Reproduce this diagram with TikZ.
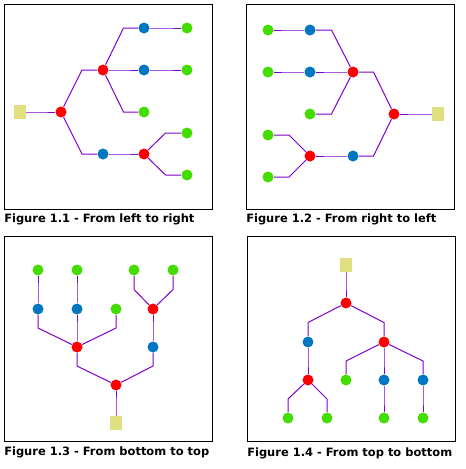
\documentclass[tikz,border=0pt]{standalone}
\usepackage{fontspec}
\setmainfont{DejaVu Sans}
\usepackage{xcolor}
\usepackage{tikz}
\usetikzlibrary{calc}
\definecolor{linepurple}{RGB}{128, 0, 204}
\definecolor{dotred}{RGB}{255, 0, 0}
\definecolor{dotblue}{RGB}{0, 119, 192}
\definecolor{dotgreen}{RGB}{68, 221, 0}
\definecolor{rootkhaki}{RGB}{224, 224, 128}
\newcommand{\hlink}[2]{\coordinate (mid) at ($(#1)!.5!(#2)$);
	\draw[link] (#1) -- (mid |- #2) -- (#2);}
\newcommand{\vlink}[2]{\coordinate (mid) at ($(#1)!.5!(#2)$);
	\draw[link] (#1) -- (#2 |- mid) -- (#2);}

\begin{document}
\begin{tikzpicture}[x = 0.75pt, y = -0.75pt,
		dot/.style = {circle, inner sep = 0pt, minimum size = 8.25pt},
		red/.style = {dot, fill = dotred},
		blue/.style = {dot, fill = dotblue},
		green/.style = {dot, fill = dotgreen},
		root/.style = {rectangle, inner sep = 0pt, minimum width = 9pt, minimum height = 10.5pt, fill = rootkhaki},
		link/.style = {linepurple, line width = 0.75pt},
		frame/.style = {draw = black, line width = 0.75pt},
		caption/.style = {anchor = base west, inner sep = 0pt, font = \bfseries\fontsize{8.6}{10}\selectfont}]
			\useasboundingbox (0,0) rectangle (466,469);
			\draw[frame] (4.5,4.5) rectangle (212,209);
			\draw[frame] (246.5,4.5) rectangle (454,209);
			\draw[frame] (4.5,236.5) rectangle (212,441);
			\draw[frame] (247.5,236.5) rectangle (455,441);
			\node (capA) at (4,222.7) [caption] {Figure 1.1 - From left to right};
			\node (capB) at (246,222.7) [caption] {Figure 1.2 - From right to left};
			\node (capC) at (4,455.3) [caption] {Figure 1.3 - From bottom to top};
			\node (capD) at (247,456) [caption] {Figure 1.4 - From top to bottom};
			\node (sqA) at (20,112) [root] {};
			\node (rA1) at (61,112) [red] {};
			\node (rA2) at (103,70) [red] {};
			\node (bA1) at (144,28) [blue] {};
			\node (gA1) at (187,28) [green] {};
			\node (bA2) at (144,70) [blue] {};
			\node (gA2) at (187,70) [green] {};
			\node (gA3) at (144,112) [green] {};
			\node (bA3) at (103,154) [blue] {};
			\node (rA3) at (144,154) [red] {};
			\node (gA4) at (187,133) [green] {};
			\node (gA5) at (187,175) [green] {};
			\hlink{sqA}{rA1}
			\hlink{rA1}{rA2}
			\hlink{rA1}{bA3}
			\hlink{rA2}{bA1}
			\hlink{bA1}{gA1}
			\hlink{rA2}{bA2}
			\hlink{bA2}{gA2}
			\hlink{rA2}{gA3}
			\hlink{bA3}{rA3}
			\hlink{rA3}{gA4}
			\hlink{rA3}{gA5}
			\node (sqB) at (438,114) [root] {};
			\node (rB1) at (394,114) [red] {};
			\node (rB2) at (353,72) [red] {};
			\node (bB1) at (310,30) [blue] {};
			\node (gB1) at (268,30) [green] {};
			\node (bB2) at (310,72) [blue] {};
			\node (gB2) at (268,72) [green] {};
			\node (gB3) at (310,114) [green] {};
			\node (bB3) at (353,156) [blue] {};
			\node (rB3) at (310,156) [red] {};
			\node (gB4) at (268,135) [green] {};
			\node (gB5) at (268,177) [green] {};
			\hlink{sqB}{rB1}
			\hlink{rB1}{rB2}
			\hlink{rB1}{bB3}
			\hlink{rB2}{bB1}
			\hlink{bB1}{gB1}
			\hlink{rB2}{bB2}
			\hlink{bB2}{gB2}
			\hlink{rB2}{gB3}
			\hlink{bB3}{rB3}
			\hlink{rB3}{gB4}
			\hlink{rB3}{gB5}
			\node (sqC) at (116,423) [root] {};
			\node (rC1) at (116,385) [red] {};
			\node (rC2) at (77,347) [red] {};
			\node (bC1) at (38,309) [blue] {};
			\node (gC1) at (38,270) [green] {};
			\node (bC2) at (77,309) [blue] {};
			\node (gC2) at (77,270) [green] {};
			\node (gC3) at (116,309) [green] {};
			\node (bC3) at (153,347) [blue] {};
			\node (rC3) at (153,309) [red] {};
			\node (gC4) at (134,270) [green] {};
			\node (gC5) at (173,270) [green] {};
			\vlink{sqC}{rC1}
			\vlink{rC1}{rC2}
			\vlink{rC1}{bC3}
			\vlink{rC2}{bC1}
			\vlink{bC1}{gC1}
			\vlink{rC2}{bC2}
			\vlink{bC2}{gC2}
			\vlink{rC2}{gC3}
			\vlink{bC3}{rC3}
			\vlink{rC3}{gC4}
			\vlink{rC3}{gC5}
			\node (sqD) at (346,265) [root] {};
			\node (rD1) at (346,303) [red] {};
			\node (rD2) at (384,342) [red] {};
			\node (bD1) at (423,380) [blue] {};
			\node (gD1) at (423,418) [green] {};
			\node (bD2) at (384,380) [blue] {};
			\node (gD2) at (384,418) [green] {};
			\node (gD3) at (346,380) [green] {};
			\node (bD3) at (308,342) [blue] {};
			\node (rD3) at (308,380) [red] {};
			\node (gD4) at (327,418) [green] {};
			\node (gD5) at (288,418) [green] {};
			\vlink{sqD}{rD1}
			\vlink{rD1}{rD2}
			\vlink{rD1}{bD3}
			\vlink{rD2}{bD1}
			\vlink{bD1}{gD1}
			\vlink{rD2}{bD2}
			\vlink{bD2}{gD2}
			\vlink{rD2}{gD3}
			\vlink{bD3}{rD3}
			\vlink{rD3}{gD4}
			\vlink{rD3}{gD5}
			\end{tikzpicture}
\end{document}
